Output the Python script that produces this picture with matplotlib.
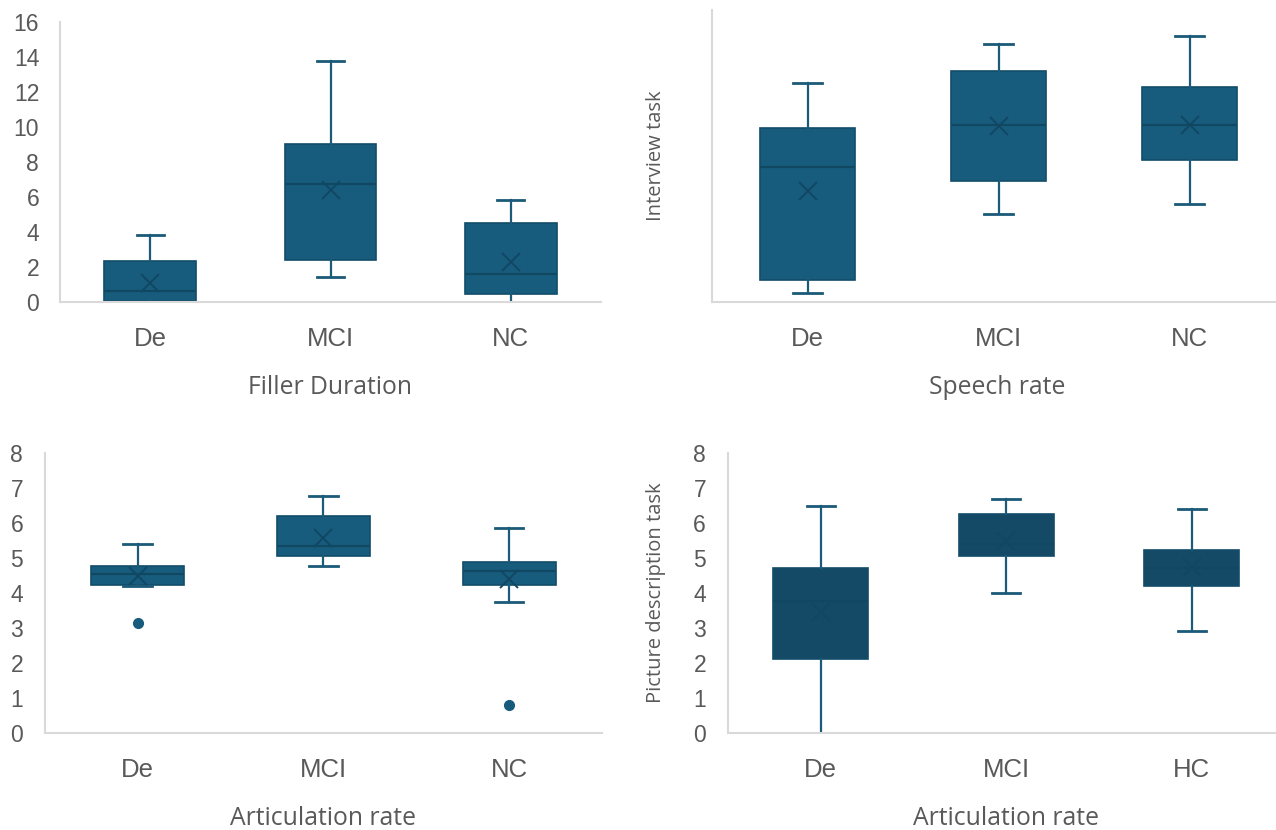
import matplotlib
matplotlib.use("Agg")
import matplotlib.pyplot as plt

# ---------------- data ----------------
groups_a = ["De", "MCI", "NC"]
groups_b = ["De", "MCI", "HC"]

# Filler Duration (interview task)
fd_whislo = [0.0, 1.45, 0.0]
fd_q1     = [0.05, 2.4, 0.45]
fd_med    = [0.65, 6.75, 1.6]
fd_q3     = [2.35, 9.0, 4.5]
fd_whishi = [3.8, 13.75, 5.85]
fd_mean   = [1.1, 6.4, 2.3]

# Speech rate (interview task), no y scale shown
sr_whislo = [0.12, 1.20, 1.34]
sr_q1     = [0.30, 1.66, 1.94]
sr_med    = [1.85, 2.42, 2.42]
sr_q3     = [2.38, 3.17, 2.94]
sr_whishi = [3.00, 3.54, 3.64]
sr_mean   = [1.52, 2.41, 2.43]

# Articulation rate (interview task)
ar1_whislo = [4.19, 4.77, 3.74]
ar1_q1     = [4.22, 5.06, 4.22]
ar1_med    = [4.53, 5.35, 4.63]
ar1_q3     = [4.78, 6.20, 4.88]
ar1_whishi = [5.41, 6.78, 5.85]
ar1_mean   = [4.49, 5.56, 4.40]
ar1_fliers = [[3.13], [], [0.79]]

# Articulation rate (picture description task)
ar2_whislo = [0.0, 4.0, 2.92]
ar2_q1     = [2.11, 5.07, 4.19]
ar2_med    = [3.76, 5.41, 4.71]
ar2_q3     = [4.71, 6.27, 5.24]
ar2_whishi = [6.49, 6.69, 6.40]
ar2_mean   = [3.45, 5.50, 4.75]

# ---------------- style ----------------
W, H = 1276, 830
fig = plt.figure(figsize=(W / 100, H / 100), dpi=100)
fig.patch.set_facecolor("white")

TICK_FONT = "Liberation Sans"
TITLE_FONT = "Open Sans"
GREY = "#595959"
SPINE = "#d9d9d9"
C_LIGHT = "#175c7d"
C_DARK = "#144a66"


def px_axes(x0, x1, ytop, ybot):
    return fig.add_axes([x0 / W, (H - ybot) / H, (x1 - x0) / W, (ybot - ytop) / H])


def stats(whislo, q1, med, q3, whishi, mean, fliers=None):
    out = []
    for i in range(len(med)):
        out.append(dict(whislo=whislo[i], q1=q1[i], med=med[i], q3=q3[i],
                        whishi=whishi[i], mean=mean[i],
                        fliers=(fliers[i] if fliers else [])))
    return out


def draw(ax, st, width, capw, color, labels, ylim, yticks, ypad, show_y=True):
    pos = [0.5, 1.5, 2.5]
    ax.bxp(st, positions=pos, widths=width, patch_artist=True,
           showmeans=True, showfliers=True, capwidths=capw,
           boxprops=dict(facecolor=color, edgecolor="#124d69", linewidth=1.2),
           medianprops=dict(color="#104862", linewidth=1.6),
           whiskerprops=dict(color="#1b5a78", linewidth=1.6),
           capprops=dict(color="#1b5a78", linewidth=2.0),
           meanprops=dict(marker="x", markeredgecolor="#114763", markersize=13,
                          markeredgewidth=1.4),
           flierprops=dict(marker="o", markerfacecolor=C_LIGHT,
                           markeredgecolor=C_LIGHT, markersize=7))
    ax.set_xlim(0, 3)
    ax.set_ylim(*ylim)
    ax.set_xticks(pos)
    ax.set_xticklabels(labels, fontsize=18.5, color=GREY, family=TICK_FONT)
    if show_y:
        ax.set_yticks(yticks)
        ax.set_yticklabels([str(v) for v in yticks], fontsize=16.5, color=GREY,
                           family=TICK_FONT)
    else:
        ax.set_yticks([])
    ax.tick_params(axis="x", length=0, pad=18)
    ax.tick_params(axis="y", length=0, pad=ypad)
    for s in ["top", "right"]:
        ax.spines[s].set_visible(False)
    for s in ["left", "bottom"]:
        ax.spines[s].set_color(SPINE)
        ax.spines[s].set_linewidth(1.5)
    ax.set_facecolor("none")


# top-left: Filler Duration
ax1 = px_axes(60, 601, 22, 302)
draw(ax1, stats(fd_whislo, fd_q1, fd_med, fd_q3, fd_whishi, fd_mean),
     width=0.51, capw=0.15, color=C_LIGHT, labels=groups_a, ylim=(0, 16),
     yticks=list(range(0, 17, 2)), ypad=15)

# top-right: Speech rate
ax2 = px_axes(712, 1285, 10, 302)
draw(ax2, stats(sr_whislo, sr_q1, sr_med, sr_q3, sr_whishi, sr_mean),
     width=0.5, capw=0.147, color=C_LIGHT, labels=groups_a, ylim=(0, 4.0),
     yticks=[], ypad=10, show_y=False)

# bottom-left: Articulation rate (interview)
ax3 = px_axes(44.6, 602, 453, 733)
draw(ax3, stats(ar1_whislo, ar1_q1, ar1_med, ar1_q3, ar1_whishi, ar1_mean, ar1_fliers),
     width=0.5, capw=0.154, color=C_LIGHT, labels=groups_a, ylim=(0, 8),
     yticks=list(range(0, 9)), ypad=15.4)

# bottom-right: Articulation rate (picture description)
ax4 = px_axes(728, 1284.5, 453, 733)
draw(ax4, stats(ar2_whislo, ar2_q1, ar2_med, ar2_q3, ar2_whishi, ar2_mean),
     width=0.51, capw=0.15, color=C_DARK, labels=groups_b, ylim=(0, 8),
     yticks=list(range(0, 9)), ypad=15.8)

# rotated task labels
fig.text(656 / W, 1 - 156 / H, "Interview task", rotation=90, ha="center",
         va="center", fontsize=14.5, color=GREY, family=TITLE_FONT)
fig.text(656 / W, 1 - 593 / H, "Picture description task", rotation=90,
         ha="center", va="center", fontsize=14.5, color=GREY, family=TITLE_FONT)

# axis titles below each panel
fig.text(330 / W, 1 - 387 / H, "Filler Duration", ha="center", va="center",
         fontsize=17.8, color=GREY, family=TITLE_FONT)
fig.text(997 / W, 1 - 387 / H, "Speech rate", ha="center", va="center",
         fontsize=17.8, color=GREY, family=TITLE_FONT)
fig.text(323 / W, 1 - 818 / H, "Articulation rate", ha="center", va="center",
         fontsize=17.8, color=GREY, family=TITLE_FONT)
fig.text(1006 / W, 1 - 818 / H, "Articulation rate", ha="center", va="center",
         fontsize=17.8, color=GREY, family=TITLE_FONT)

fig.savefig("out.png", dpi=100, facecolor="white")
